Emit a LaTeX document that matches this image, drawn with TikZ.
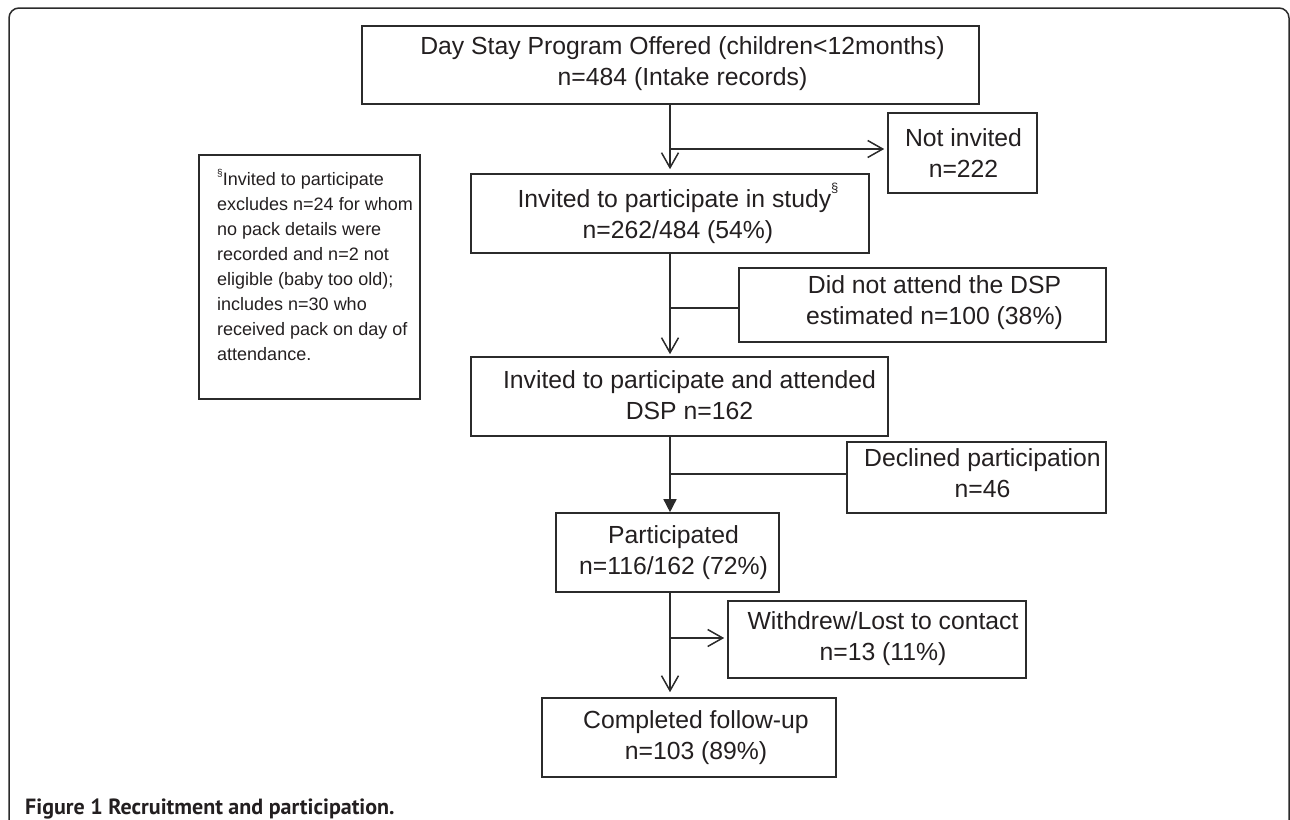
\documentclass[tikz,border=0pt]{standalone}
\usepackage{fontspec}
\setmainfont{Liberation Sans}
\newfontfamily\capfont{PT Sans}
\usetikzlibrary{arrows.meta}
\definecolor{ink}{HTML}{231F20}
\definecolor{linec}{HTML}{2B2B2B}
\begin{document}
\begin{tikzpicture}[x=1pt,y=-1pt,
  box/.style={draw=linec,line width=1.6pt,inner sep=0pt},
  txt/.style={text=ink,font=\fontsize{24.75}{31}\selectfont,align=center,inner sep=0pt},
  notetxt/.style={text=ink,font=\fontsize{18}{25}\selectfont,align=left,inner sep=0pt},
  conn/.style={draw=linec,line width=1.5pt},
  openarrow/.style={-{Straight Barb[length=15pt,width=17pt,line width=1.5pt]}},
  filledarrow/.style={-{Triangle[length=13pt,width=13pt]}},
]
\useasboundingbox (0,0) rectangle (1290,819);
% frame
\draw[linec,line width=1.5pt,rounded corners=10pt] (9,830) -- (9,8) -- (1289,8) -- (1289,830);

% boxes
\node[box,minimum width=617pt,minimum height=78pt] (b1) at (670.5,65) {};
\node[box,minimum width=149pt,minimum height=80pt] (ni) at (962.5,153) {};
\node[box,minimum width=398pt,minimum height=79pt] (b2) at (670,213.5) {};
\node[box,minimum width=367pt,minimum height=74pt] (dna) at (922.5,305) {};
\node[box,minimum width=417pt,minimum height=79pt] (b3) at (679.5,396.5) {};
\node[box,minimum width=259pt,minimum height=71pt] (dec) at (976.5,477.5) {};
\node[box,minimum width=223pt,minimum height=79pt] (part) at (667.5,552.5) {};
\node[box,minimum width=298pt,minimum height=77pt] (wd) at (877,639.5) {};
\node[box,minimum width=294pt,minimum height=79pt] (comp) at (689,737.5) {};
\node[box,minimum width=221pt,minimum height=244pt] (note) at (309.5,277) {};

% texts
\node[txt] (b1t) at ([xshift=12pt,yshift=1pt]b1.center) {Day Stay Program Offered (children<12months)\\n=484 (Intake records)};
\node[txt] (nit) at ([xshift=1pt]ni.center) {Not invited\\n=222};
\node[txt] (b2t) at ([xshift=8pt]b2.center) {Invited to participate in study\raisebox{1.1ex}{\fontsize{13}{13}\selectfont\S}\\n=262/484 (54\%)};
\node[txt] (dnat) at ([xshift=12pt,yshift=2pt]dna.center) {Did not attend the DSP\\estimated n=100 (38\%)};
\node[txt] (b3t) at ([xshift=10pt,yshift=1pt]b3.center) {Invited to participate and attended\\DSP n=162};
\node[txt] (dect) at ([xshift=6pt,yshift=4pt]dec.center) {Declined participation\\n=46};
\node[txt] (partt) at ([xshift=6pt]part.center) {Participated\\n=116/162 (72\%)};
\node[txt] (wdt) at ([xshift=6pt,yshift=1pt]wd.center) {Withdrew/Lost to contact\\n=13 (11\%)};
\node[txt] (compt) at ([xshift=7pt]comp.center) {Completed follow-up\\n=103 (89\%)};
\node[notetxt,anchor=west] (notet) at (217,265) {\raisebox{0.9ex}{\fontsize{10}{10}\selectfont\S}Invited to participate\\excludes n=24 for whom\\no pack details were\\recorded and n=2 not\\eligible (baby too old);\\includes n=30 who\\received pack on day of\\attendance.};

% connectors
\coordinate (sp) at (670,0);
\draw[conn,openarrow,shorten >=4pt] (b1.south -| sp) -- (b2.north -| sp);
\coordinate (j1) at (670,149);
\draw[conn,openarrow,shorten >=3pt] (j1) -- (j1 -| ni.west);
\draw[conn,openarrow,shorten >=2pt] (b2.south -| sp) -- (b3.north -| sp);
\coordinate (j2) at (670,308);
\draw[conn] (j2) -- (j2 -| dna.west);
\draw[conn,filledarrow] (b3.south -| sp) -- (part.north -| sp);
\coordinate (j3) at (670,474);
\draw[conn] (j3) -- (j3 -| dec.west);
\draw[conn,openarrow,shorten >=5pt] (part.south -| sp) -- (comp.north -| sp);
\coordinate (j4) at (670,638);
\draw[conn,openarrow,shorten >=3pt] (j4) -- (j4 -| wd.west);

% caption
\node[anchor=base west,inner sep=0pt,text=ink,font=\capfont\bfseries\fontsize{22}{22}\selectfont] (cap) at (25,814) {Figure 1 Recruitment and participation.};
\end{tikzpicture}
\end{document}
